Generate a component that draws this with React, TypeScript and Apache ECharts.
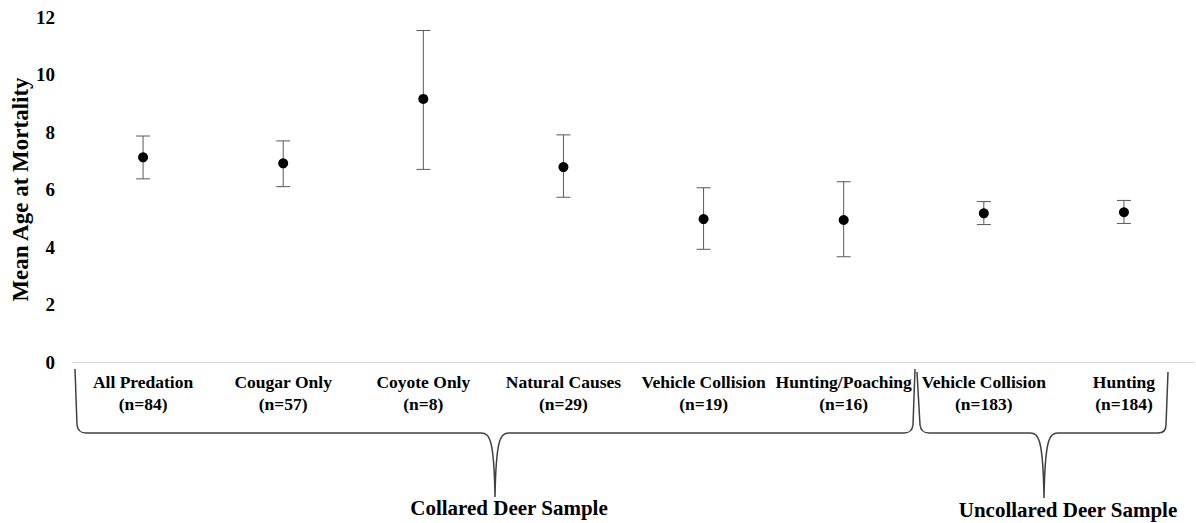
import React, { useEffect, useRef } from "react";
import * as echarts from "echarts";

const categories = [
  "All Predation\n(n=84)",
  "Cougar Only\n(n=57)",
  "Coyote Only\n(n=8)",
  "Natural Causes\n(n=29)",
  "Vehicle Collision\n(n=19)",
  "Hunting/Poaching\n(n=16)",
  "Vehicle Collision\n(n=183)",
  "Hunting\n(n=184)",
];
const means = [7.12, 6.91, 9.15, 6.78, 4.97, 4.94, 5.17, 5.21];
const upper = [7.86, 7.69, 11.53, 7.9, 6.06, 6.27, 5.58, 5.62];
const lower = [6.37, 6.1, 6.7, 5.73, 3.92, 3.66, 4.78, 4.82];
const groupLabels = ["Collared Deer Sample", "Uncollared Deer Sample"];

const FONT = "'Liberation Serif', 'Times New Roman', serif";

const leftBrace =
  "M75 369 L77 425 Q78 433 86 433 L481 433 C490 433 494 440 495 497 C496 440 500 433 509 433 L904 433 Q912 433 913 425 L915 369";
const rightBrace =
  "M917 372 L920 425 Q921 433 929 433 L1030 433 C1039 433 1043 440 1044 498 C1045 440 1049 433 1058 433 L1158 433 Q1166 433 1166 425 L1168 372";

let registered = false;
function registerShapes() {
  if (registered) return;
  registered = true;
  echarts.graphic.registerShape("braceLeft", echarts.graphic.extendPath(leftBrace, {}));
  echarts.graphic.registerShape("braceRight", echarts.graphic.extendPath(rightBrace, {}));
}

export default function App() {
  const ref = useRef<HTMLDivElement>(null);
  useEffect(() => {
    if (!ref.current) return;
    registerShapes();
    const chart = echarts.init(ref.current, null, { renderer: "svg" });
    const errData = categories.map((_, i) => [i, upper[i], lower[i]]);
    chart.setOption({
      animation: false,
      backgroundColor: "#ffffff",
      grid: {
        left: 73,
        right: 2,
        top: 17,
        bottom: 161,
        containLabel: false,
        outerBoundsMode: "none",
      },
      xAxis: {
        type: "category",
        data: categories,
        boundaryGap: true,
        axisLine: { show: true, lineStyle: { color: "#d9d9d9", width: 1 } },
        axisTick: { show: false },
        splitLine: { show: false },
        axisLabel: {
          interval: 0,
          margin: 9,
          color: "#000000",
          fontFamily: FONT,
          fontWeight: "bold",
          fontSize: 17.5,
          lineHeight: 22,
        },
      },
      yAxis: {
        type: "value",
        min: 0,
        max: 12,
        interval: 2,
        axisLine: { show: false },
        axisTick: { show: false },
        splitLine: { show: false },
        axisLabel: {
          margin: 18,
          color: "#000000",
          fontFamily: FONT,
          fontWeight: "bold",
          fontSize: 19,
        },
        name: "Mean Age at Mortality",
        nameLocation: "middle",
        nameRotate: 90,
        nameGap: 41,
        nameMoveOverlap: false,
        nameTextStyle: {
          color: "#000000",
          fontFamily: FONT,
          fontWeight: "bold",
          fontSize: 23,
        },
      },
      series: [
        {
          type: "custom",
          data: errData,
          encode: { x: 0, y: [1, 2] },
          z: 2,
          renderItem: (params: any, api: any) => {
            const x = api.value(0);
            const hi = api.coord([x, api.value(1)]);
            const lo = api.coord([x, api.value(2)]);
            const w = 7;
            const style = { stroke: "#595959", lineWidth: 1 };
            return {
              type: "group",
              children: [
                { type: "line", shape: { x1: hi[0], y1: hi[1], x2: lo[0], y2: lo[1] }, style },
                { type: "line", shape: { x1: hi[0] - w, y1: hi[1], x2: hi[0] + w, y2: hi[1] }, style },
                { type: "line", shape: { x1: lo[0] - w, y1: lo[1], x2: lo[0] + w, y2: lo[1] }, style },
              ],
            };
          },
        },
        {
          type: "scatter",
          data: means,
          symbol: "circle",
          symbolSize: 10,
          itemStyle: { color: "#000000", opacity: 1 },
          z: 3,
        },
      ],
      graphic: [
        {
          type: "braceLeft",
          x: 0,
          y: 0,
          style: { fill: "none", stroke: "#404040", lineWidth: 1.5 },
        },
        {
          type: "braceRight",
          x: 0,
          y: 0,
          style: { fill: "none", stroke: "#404040", lineWidth: 1.5 },
        },
        {
          type: "text",
          x: 509,
          y: 508,
          style: {
            text: groupLabels[0],
            fill: "#000000",
            font: `bold 21px ${FONT}`,
            textAlign: "center",
            textVerticalAlign: "middle",
          },
        },
        {
          type: "text",
          x: 1068,
          y: 510,
          style: {
            text: groupLabels[1],
            fill: "#000000",
            font: `bold 21px ${FONT}`,
            textAlign: "center",
            textVerticalAlign: "middle",
          },
        },
      ],
    });
    return () => chart.dispose();
  }, []);
  return (
    <div
      ref={ref}
      style={{ position: "fixed", left: 0, top: 0, width: 1196, height: 523, background: "#fff" }}
    />
  );
}
